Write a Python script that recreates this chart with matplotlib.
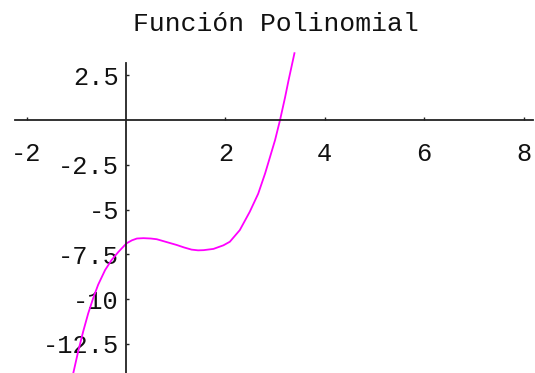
import matplotlib
matplotlib.use("Agg")
import matplotlib.pyplot as plt
from matplotlib.ticker import FixedLocator, FixedFormatter

plt.rcParams["font.family"] = ["Liberation Mono", "DejaVu Sans Mono"]
plt.rcParams["axes.unicode_minus"] = False

# Sampled points of the polynomial curve
curve_x = [-1.06, -0.96, -0.86, -0.76, -0.66, -0.56, -0.42, -0.29, -0.15, 0.01,
           0.12, 0.22, 0.35, 0.50, 0.62, 0.82, 1.02, 1.17, 1.32, 1.45,
           1.56, 1.76, 1.96, 2.09, 2.29, 2.49, 2.66, 2.80, 2.90, 3.00,
           3.10, 3.20, 3.27, 3.39]
curve_y = [-14.13, -12.90, -11.80, -10.80, -9.95, -9.20, -8.38, -7.82, -7.36, -6.89,
           -6.72, -6.62, -6.60, -6.62, -6.66, -6.82, -6.98, -7.12, -7.24, -7.28,
           -7.27, -7.20, -7.00, -6.80, -6.15, -5.13, -4.12, -2.98, -2.05, -1.12,
           0.00, 1.25, 2.20, 3.73]

x_ticks = [-2, 2, 4, 6, 8]
x_tick_labels = ["-2", "2", "4", "6", "8"]
y_ticks = [2.5, -2.5, -5, -7.5, -10, -12.5]
y_tick_labels = ["2.5", "-2.5", "-5", "-7.5", "-10", "-12.5"]

title = "Función Polinomial"

fig = plt.figure(figsize=(5.35, 3.73), dpi=100)
ax = fig.add_axes([0, 0, 1, 1])
ax.set_xlim(-2.535, 8.23)
ax.set_ylim(-14.13, 6.70)
ax.patch.set_alpha(0)

ax.plot(curve_x, curve_y, color="#ff00ff", lw=1.3, solid_joinstyle="round",
        clip_on=True)

axis_color = "#222222"
for side in ("top", "right"):
    ax.spines[side].set_visible(False)
ax.spines["left"].set_position(("data", 0))
ax.spines["bottom"].set_position(("data", 0))
ax.spines["left"].set_bounds(-14.13, 3.19)
ax.spines["bottom"].set_bounds(-2.23, 8.19)
for side in ("left", "bottom"):
    ax.spines[side].set_color(axis_color)
    ax.spines[side].set_linewidth(1.3)

ax.xaxis.set_major_locator(FixedLocator(x_ticks))
ax.xaxis.set_major_formatter(FixedFormatter(x_tick_labels))
ax.yaxis.set_major_locator(FixedLocator(y_ticks))
ax.yaxis.set_major_formatter(FixedFormatter(y_tick_labels))

ax.tick_params(axis="x", direction="in", length=2.2, width=1.0, color=axis_color,
               pad=16, labelsize=18.3, labelcolor="#111111")
ax.tick_params(axis="y", direction="in", length=2.2, width=1.0, color=axis_color,
               pad=5, labelsize=18.3, labelcolor="#111111")

fig.text(275.5 / 535, 1 - 31 / 373, title, ha="center", va="baseline",
         fontsize=19, color="#111111")

fig.savefig("out.png", dpi=100, facecolor="white")
